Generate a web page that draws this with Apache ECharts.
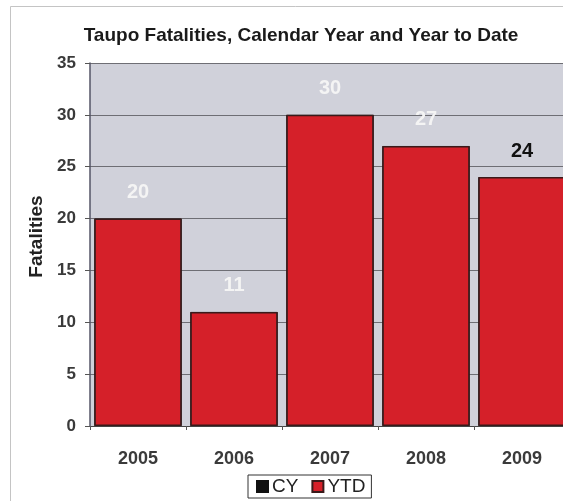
<!DOCTYPE html>
<html>
<head>
<meta charset="utf-8">
<script src="https://cdn.jsdelivr.net/npm/echarts@6/dist/echarts.min.js"></script>
<style>
html,body{margin:0;padding:0;background:#fff;overflow:hidden;width:563px;height:501px;}
#chart{width:580px;height:501px;}
</style>
</head>
<body>
<div id="chart"></div>
<script>
const categories = ['2005', '2006', '2007', '2008', '2009'];
const cyValues = [20, 11, 30, 27, 24];
const ytdValues = [20, 11, 30, 27, 24];
const yTicks = [0, 5, 10, 15, 20, 25, 30, 35];
const labelColors = ['#f4f4f4', '#f4f4f4', '#f4f4f4', '#f4f4f4', '#111111'];

const chart = echarts.init(document.getElementById('chart'), null, {renderer: 'canvas'});
const font = 'Liberation Sans, Arial, sans-serif';

chart.setOption({
  animation: false,
  backgroundColor: '#ffffff',
  graphic: [{
    type: 'rect',
    shape: {x: 10.5, y: 6.5, width: 700, height: 700},
    style: {fill: 'none', stroke: '#c4c4c4', lineWidth: 1},
    z: -10
  }],
  title: {
    text: 'Taupo Fatalities, Calendar Year and Year to Date',
    left: 296,
    textAlign: 'center',
    top: 21,
    textStyle: {fontFamily: font, fontWeight: 'bold', fontSize: 19, color: '#1a1a1a'}
  },
  legend: {
    data: ['CY', 'YTD'],
    left: 248,
    top: 475,
    itemWidth: 11,
    itemHeight: 11,
    itemGap: 13,
    icon: 'rect',
    padding: [2, 6, 2, 8],
    borderColor: '#333',
    borderWidth: 1,
    textStyle: {fontFamily: font, fontSize: 19, color: '#222', padding: [0, 0, 0, -1]}
  },
  grid: {left: 90, width: 480, top: 63, height: 363, show: true, backgroundColor: '#d0d1da', borderWidth: 0},
  xAxis: {
    type: 'category',
    data: categories,
    axisLine: {show: true, lineStyle: {color: '#444', width: 1}},
    axisTick: {show: true, length: 4, lineStyle: {color: '#555'}},
    axisLabel: {fontFamily: font, fontSize: 18, fontWeight: 'bold', color: '#3a3a3a', margin: 24}
  },
  yAxis: {
    type: 'value',
    min: yTicks[0],
    max: yTicks[yTicks.length - 1],
    interval: 5,
    name: 'Fatalities',
    nameLocation: 'middle',
    nameGap: 44,
    nameRotate: 90,
    nameTextStyle: {fontFamily: font, fontSize: 19, fontWeight: 'bold', color: '#222', padding: [0, 0, 0, 16]},
    axisLine: {show: true, lineStyle: {color: '#556', width: 1.5}},
    axisTick: {show: true, length: 5, lineStyle: {color: '#555'}},
    axisLabel: {fontFamily: font, fontSize: 17, fontWeight: 'bold', color: '#3a3a3a', margin: 14},
    splitLine: {show: true, lineStyle: {color: '#6e6e74', width: 1}}
  },
  series: [
    {
      name: 'CY',
      type: 'bar',
      data: cyValues,
      barCategoryGap: '9%',
      barGap: '-100%',
      itemStyle: {color: '#111111', borderColor: '#111', borderWidth: 1},
      z: 1
    },
    {
      name: 'YTD',
      type: 'bar',
      data: ytdValues.map((v, i) => ({
        value: v,
        label: {color: labelColors[i]}
      })),
      barCategoryGap: '9%',
      barGap: '-100%',
      itemStyle: {color: '#d52029', borderColor: '#3a1a1a', borderWidth: 1.5},
      label: {
        show: true,
        position: 'top',
        distance: 16,
        fontFamily: font,
        fontSize: 20,
        fontWeight: 'bold'
      },
      z: 2
    }
  ]
});
</script>
</body>
</html>
